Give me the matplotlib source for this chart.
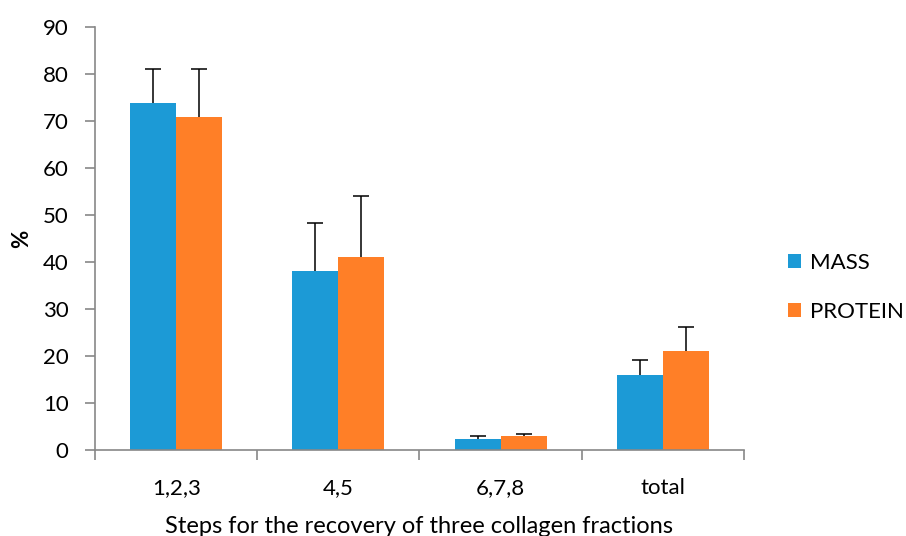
import numpy as np
import matplotlib.pyplot as plt

plt.rcParams['font.family'] = ['Lato', 'DejaVu Sans']

categories = ["1,2,3", "4,5", "6,7,8", "total"]
mass = [73.8, 38.1, 2.3, 16.0]
mass_err = [7.2, 10.1, 0.7, 3.1]
protein = [70.9, 41.1, 3.0, 21.1]
protein_err = [10.2, 12.9, 0.4, 5.1]

fig = plt.figure(figsize=(9.06, 5.36), dpi=100)
ax = fig.add_axes([0.105, 0.1604, 0.716, 0.7892])

x = np.arange(len(categories))
w = 0.284
err_kw = dict(ecolor="black", elinewidth=1.1, capsize=6, capthick=1.1)
b1 = ax.bar(x - w / 2, mass, w, color="#1C9AD6", label="MASS",
            yerr=[np.zeros(4), mass_err], error_kw=err_kw)
b2 = ax.bar(x + w / 2, protein, w, color="#FF7F27", label="PROTEIN",
            yerr=[np.zeros(4), protein_err], error_kw=err_kw)

# only keep the upper caps
for bars, vals in [(b1, mass), (b2, protein)]:
    for cap in bars.errorbar.lines[1]:
        if np.allclose(cap.get_ydata(), vals):
            cap.set_visible(False)

ax.set_xlim(-0.5, len(categories) - 0.5)
ax.set_ylim(0, 90)
ax.set_yticks(range(0, 91, 10))
ax.set_xticks(x)
ax.set_xticklabels(categories)
ax.set_xticks(np.arange(-0.5, len(categories)), minor=True)
ax.tick_params(axis="x", which="major", length=0, pad=20, labelsize=16)
ax.tick_params(axis="x", which="minor", length=7, color="#888888", width=1.2)
ax.tick_params(axis="y", length=7, color="#888888", width=1.2, labelsize=16, pad=12)

for s in ["top", "right"]:
    ax.spines[s].set_visible(False)
for s in ["left", "bottom"]:
    ax.spines[s].set_color("#888888")
    ax.spines[s].set_linewidth(1.2)

ax.set_xlabel("Steps for the recovery of three collagen fractions", fontsize=17, labelpad=13)
ax.set_ylabel("%", fontsize=16, fontweight="bold", labelpad=8)

ax.legend(loc="center left", bbox_to_anchor=(1.054, 0.385), frameon=False,
          fontsize=16, handlelength=0.6, handleheight=0.6, handletextpad=0.4,
          labelspacing=1.3, borderaxespad=0)

fig.savefig("out.png", dpi=100)
